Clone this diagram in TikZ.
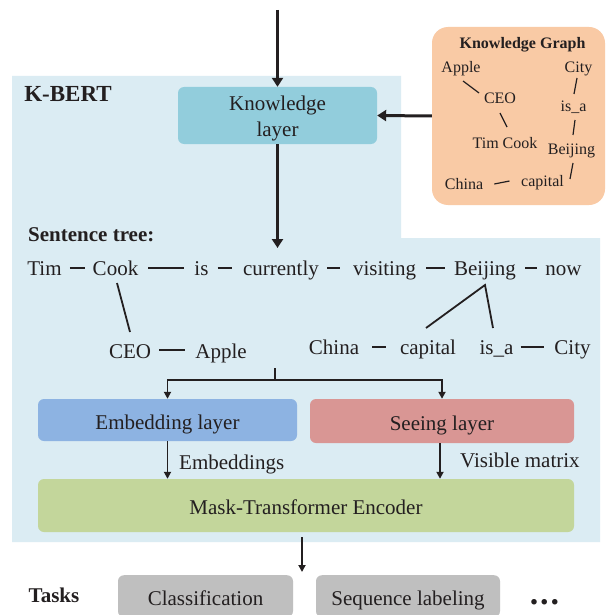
\documentclass[tikz,border=0pt]{standalone}
\usepackage{fontspec}
\setmainfont{Liberation Serif}
\usetikzlibrary{arrows.meta,calc}
\definecolor{bgblue}{HTML}{DBECF3}
\definecolor{klayer}{HTML}{92CDDC}
\definecolor{kgfill}{HTML}{F9CAA5}
\definecolor{embfill}{HTML}{8DB3E2}
\definecolor{seefill}{HTML}{D99694}
\definecolor{maskfill}{HTML}{C3D69B}
\definecolor{taskfill}{HTML}{BFBFBF}
\definecolor{ink}{HTML}{231F20}
\begin{document}
\begin{tikzpicture}[x=1pt,y=-1pt,
  every node/.style={text=ink},
  big/.style={font=\fontsize{21}{26}\selectfont},
  bigb/.style={font=\fontsize{21}{26}\selectfont\bfseries},
  small/.style={font=\fontsize{16}{19}\selectfont},
  word/.style={big, inner sep=0pt, anchor=base},
  kgword/.style={small, inner sep=0pt, anchor=base},
  layerbox/.style={draw=none, rounded corners=6pt, big, inner sep=0pt, text height=18pt, text depth=0pt},
  taskbox/.style={draw=none, fill=taskfill, rounded corners=6pt, big, inner xsep=0pt, inner ysep=12pt, text height=18pt, text depth=0pt, anchor=north},
  dashline/.style={draw=ink, line width=2.2pt},
  treeline/.style={draw=ink, line width=1.8pt},
  kgline/.style={draw=ink, line width=1.2pt},
  bigarrow/.style={draw=ink, line width=3pt, -{Triangle[width=11pt,length=9pt]}},
  smallarrow/.style={draw=ink, line width=1.8pt, -{Triangle[width=7pt,length=7pt]}},
  plainline/.style={draw=ink, line width=1.8pt},
]
\clip (0,0) rectangle (606,615);
\fill[white] (0,0) rectangle (606,615);
% background region
\fill[bgblue] (12,76) -- (401,76) -- (401,238) -- (600,238) -- (600,542) -- (12,542) -- cycle;

% titles
\node[anchor=base, inner sep=0pt, font=\fontsize{23}{27}\selectfont\bfseries] (kbert) at (68,102) {K-BERT};
\node[anchor=base west, inner sep=0pt, bigb] (stitle) at (28,241) {Sentence tree:};
\node[anchor=base, inner sep=0pt, bigb] (tasks) at (54,602) {Tasks};

% knowledge layer
\node[draw=none, fill=klayer, rounded corners=6pt, big, align=center, inner sep=0pt,
      minimum width=199pt, minimum height=57pt] (Know) at (277.5,115.5) {\rule{0pt}{20pt}Knowledge\\layer};

% knowledge graph box
\node[draw=none, fill=kgfill, rounded corners=16pt, minimum width=173pt, minimum height=178pt] (KG) at (518.5,116) {};
\node[kgword, font=\fontsize{16}{19}\selectfont\bfseries] (kTitle) at (522.5,49) {Knowledge Graph};
\node[kgword] (kApple) at (461,73) {Apple};
\node[kgword] (kCity) at (578.5,73) {City};
\node[kgword] (kCEO) at (500,104) {CEO};
\node[kgword] (kisa) at (573.5,111) {is\_a};
\node[kgword] (kTim) at (505,148) {Tim Cook};
\node[kgword] (kBeijing) at (571.5,154) {Beijing};
\node[kgword] (kChina) at (464,189) {China};
\node[kgword] (kcapital) at (542.5,186) {capital};
\draw[kgline] ([shift={(2,8)}]kApple.base) -- ([shift={(-21,-11)}]kCEO.base);
\draw[kgline] ([shift={(0,9)}]kCEO.base) -- ([shift={(2,-21)}]kTim.base);
\draw[kgline] ([shift={(-1.5,5)}]kCity.base) -- ([shift={(0.5,-17)}]kisa.base);
\draw[kgline] ([shift={(1.5,9)}]kisa.base) -- ([shift={(1.5,-19)}]kBeijing.base);
\draw[kgline] ([shift={(1.5,9)}]kBeijing.base) -- ([shift={(27.5,-7)}]kcapital.base);
\draw[kgline] ([shift={(11,-5)}]kChina.base east) -- ([shift={(-11.5,-5)}]kcapital.base west);

% arrows into knowledge layer
\coordinate (input) at (277.5,10);
\draw[bigarrow] (input) -- (Know.north);
\draw[bigarrow] (KG.west) -- (Know.east);

% sentence tree
\node[word] (Tim) at (44.5,275) {Tim};
\node[word] (Cook) at (115.5,275) {Cook};
\node[word] (is) at (201.5,275) {is};
\node[word] (currently) at (281,275) {currently};
\node[word] (visiting) at (384.5,275) {visiting};
\node[word] (Beijing) at (485,275) {Beijing};
\node[word] (now) at (563.5,275) {now};
\node[word] (CEO) at (130,358) {CEO};
\node[word] (Apple) at (221,358) {Apple};
\node[word] (China) at (334,354) {China};
\node[word] (capital) at (428,354) {capital};
\node[word] (isa) at (496.5,354) {is\_a};
\node[word] (City) at (572.5,354) {City};

\coordinate (treeIn) at (277.5,248);
\draw[bigarrow] (Know.south) -- (treeIn);

\draw[dashline] ([shift={(8,-7)}]Tim.base east) -- ([shift={(-8,-7)}]Cook.base west);
\draw[dashline] ([shift={(10,-7)}]Cook.base east) -- ([shift={(-10,-7)}]is.base west);
\draw[dashline] ([shift={(9,-7)}]is.base east) -- ([shift={(-11,-7)}]currently.base west);
\draw[dashline] ([shift={(8,-7)}]currently.base east) -- ([shift={(-13,-7)}]visiting.base west);
\draw[dashline] ([shift={(10,-7)}]visiting.base east) -- ([shift={(-9,-7)}]Beijing.base west);
\draw[dashline] ([shift={(9,-7)}]Beijing.base east) -- ([shift={(-8,-7)}]now.base west);
\draw[dashline] ([shift={(8,-8)}]CEO.base east) -- ([shift={(-10,-8)}]Apple.base west);
\draw[dashline] ([shift={(13,-7)}]China.base east) -- ([shift={(-14,-7)}]capital.base west);
\draw[dashline] ([shift={(7,-7)}]isa.base east) -- ([shift={(-10,-7)}]City.base west);

\draw[treeline] ([shift={(1.5,8)}]Cook.base) -- ([shift={(0,-26)}]CEO.base);
\draw[treeline] ([shift={(-2,-26)}]capital.base) -- ([shift={(0,10)}]Beijing.base) -- ([shift={(-3.5,-26)}]isa.base);

% layers
\node[layerbox, fill=embfill, minimum width=259pt, minimum height=42pt] (Emb) at (167.5,420) {Embedding layer};
\node[layerbox, fill=seefill, minimum width=264pt, minimum height=44pt] (See) at (442,421) {Seeing layer};
\node[layerbox, fill=maskfill, minimum width=536pt, minimum height=53pt] (Mask) at (306,505.5) {Mask-Transformer Encoder};

\coordinate (treeOut) at (275,368);
\coordinate (split) at (275,380);
\draw[plainline] (treeOut) -- (split);
\draw[smallarrow] (split) -| (Emb.north);
\draw[smallarrow] (split) -| (See.north);

\draw[smallarrow] (Emb.south) -- (Emb.south |- Mask.north);
\draw[smallarrow] ([xshift=-2pt]See.south) -- ([xshift=-2pt]See.south |- Mask.north);
\node[anchor=base west, inner sep=0pt, big] (embl) at (179,469) {Embeddings};
\node[anchor=base west, inner sep=0pt, big] (visl) at (460,467) {Visible matrix};

% tasks
\coordinate (taskIn) at (302,572);
\draw[smallarrow] ([shift={(-4,5)}]Mask.south) -- (taskIn);
\node[taskbox, minimum width=175pt] (cls) at (205.5,575) {Classification};
\node[taskbox, minimum width=184pt] (seq) at (408,575) {Sequence labeling};
\node[anchor=base, inner sep=0pt, font=\fontsize{34}{38}\selectfont\bfseries] (dots) at (544.5,604) {.\kern2pt.\kern2pt.};
\end{tikzpicture}
\end{document}
